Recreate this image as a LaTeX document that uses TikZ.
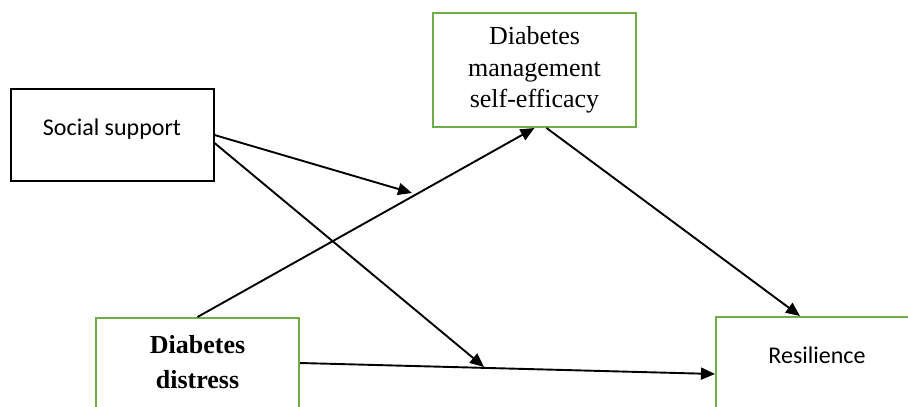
\documentclass[tikz,border=0pt]{standalone}
\usepackage{fontspec}
\setmainfont{Liberation Serif}
\newfontfamily\calibri{Carlito}
\usetikzlibrary{arrows.meta}
\definecolor{boxgreen}{RGB}{112,173,71}
\tikzset{
  varbox/.style={draw, line width=1pt, minimum width=101.5pt, inner sep=2pt},
  greenbox/.style={varbox, draw=boxgreen},
  path/.style={line width=0.95pt, -{Triangle[length=7pt, width=6pt]}}
}
\begin{document}
\begin{tikzpicture}[x=0.5pt, y=-0.5pt]
    \useasboundingbox (0,0) rectangle (908,406);
    \clip (0,0) rectangle (908,406);
    % variables
    \node[varbox, minimum height=46pt, font=\calibri\fontsize{12}{14}\selectfont,
          text height=7pt, text depth=6pt] (social) at (112,135) {Social support};
    \node[greenbox, minimum height=57pt, align=center,
          font=\fontsize{13}{15.75}\selectfont] (eff) at (534.5,70)
          {Diabetes\\management\\self-efficacy};
    \node[greenbox, minimum height=70pt, align=center,
          font=\bfseries\fontsize{13}{17.5}\selectfont,
          text height=27pt, text depth=27pt] (distress) at (197.5,388)
          {Diabetes\\distress};
    \node[greenbox, minimum width=101pt, minimum height=70pt,
          font=\calibri\fontsize{12}{14}\selectfont,
          text height=8pt, text depth=32pt] (res) at (817,387) {Resilience};
    % moderation targets
    \coordinate (m1) at (412,193);
    \coordinate (m2) at (484,367);
    % paths
    \draw[path] (social.east) -- (m1);
    \draw[path] ([yshift=-4pt]social.east) -- (m2);
    \draw[path] (distress.north) -- (eff.south);
    \draw[path] ([xshift=6pt]eff.south) -- ([xshift=-8.5pt]res.north);
    \draw[path] ([yshift=12.5pt]distress.east) -- ([yshift=6.5pt]res.west);
\end{tikzpicture}
\end{document}
